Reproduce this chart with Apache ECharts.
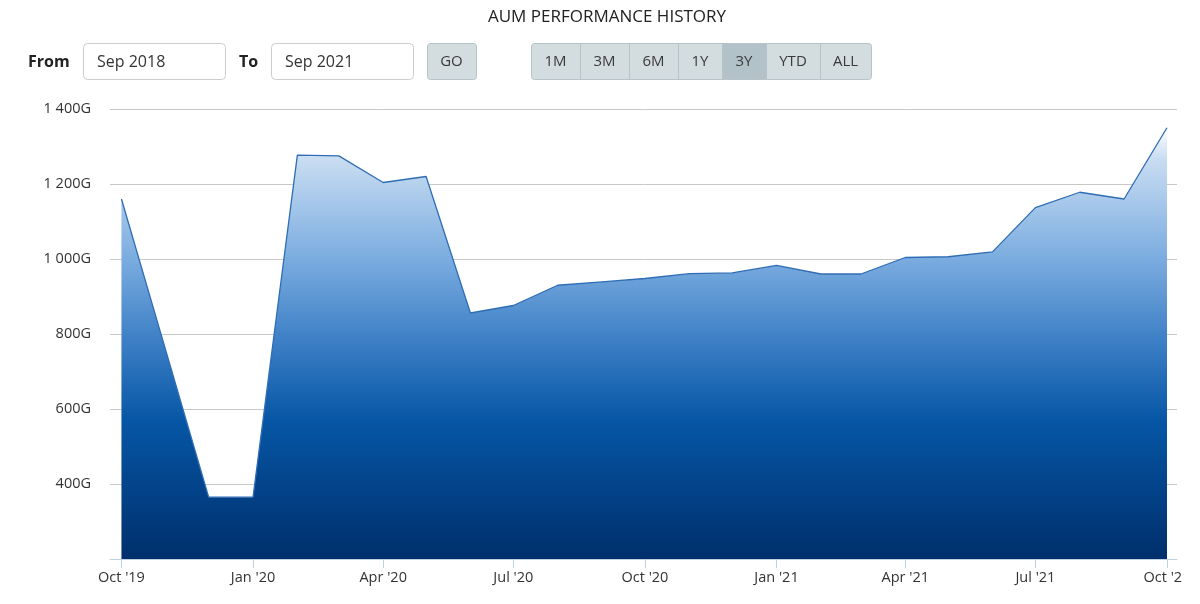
<!DOCTYPE html>
<html>
<head>
<meta charset="utf-8">
<script src="https://cdn.jsdelivr.net/npm/echarts@6/dist/echarts.min.js"></script>
<style>
  html, body { margin: 0; padding: 0; background: #ffffff; overflow: hidden; }
  #chart { width: 1184px; height: 604px; }
</style>
</head>
<body>
<div id="chart"></div>
<script>
// ---- data ----
const titleText = 'AUM PERFORMANCE HISTORY';
const months = ['2019-10-01','2019-12-01','2020-01-01','2020-02-01','2020-03-01','2020-04-01','2020-05-01','2020-06-01','2020-07-01','2020-08-01','2020-09-01','2020-10-01','2020-11-01','2020-12-01','2021-01-01','2021-02-01','2021-03-01','2021-04-01','2021-05-01','2021-06-01','2021-07-01','2021-08-01','2021-09-01','2021-10-01'];
const aumValues = [1160, 365, 365, 1277, 1275, 1204, 1220, 856, 876, 930, 939, 948, 961, 963, 983, 960, 960, 1004, 1006, 1019, 1137, 1178, 1160, 1350];
const xTickDates = ['2019-10-01','2020-01-01','2020-04-01','2020-07-01','2020-10-01','2021-01-01','2021-04-01','2021-07-01','2021-10-01'];
const xTickLabels = ["Oct '19","Jan '20","Apr '20","Jul '20","Oct '20","Jan '21","Apr '21","Jul '21","Oct '21"];
const yTickValues = [400, 600, 800, 1000, 1200, 1400];
const yTickLabels = ['400G', '600G', '800G', '1 000G', '1 200G', '1 400G'];
const fromLabel = 'From', toLabel = 'To', goLabel = 'GO';
const fromValue = 'Sep 2018', toValue = 'Sep 2021';
const rangeButtons = ['1M', '3M', '6M', '1Y', '3Y', 'YTD', 'ALL'];
const selectedRange = '3Y';

// ---- helpers ----
function ts(s) { const p = s.split('-').map(Number); return Date.UTC(p[0], p[1] - 1, p[2]); }
const seriesData = months.map((m, i) => [ts(m), aumValues[i]]);
const xTicks = xTickDates.map(ts);

// ---- layout (styles, not data) ----
const FONT = '"Open Sans", sans-serif';
const ctrlTop = 43, ctrlH = 36;
const btnEdges = [531, 580, 629, 678, 722, 766, 820, 871];

const graphics = [];
function box(x, w, fill, stroke, r) {
  graphics.push({ type: 'rect', shape: { x: x + 0.5, y: ctrlTop + 0.5, width: w, height: ctrlH, r: r },
    style: { fill: fill, stroke: stroke, lineWidth: 1 }, z: 10 });
}
function txt(x, text, opts) {
  graphics.push({ type: 'text', x: x, y: ctrlTop + ctrlH / 2 + 1, z: 11,
    style: Object.assign({ text: text, font: '15px ' + FONT, fill: '#333333', verticalAlign: 'middle', align: 'left' }, opts || {}) });
}
txt(28, fromLabel, { font: 'bold 16px ' + FONT, fill: '#222222' });
box(83, 142, '#ffffff', '#cccccc', 4);
txt(97, fromValue, { font: '16px ' + FONT });
txt(239, toLabel, { font: 'bold 16px ' + FONT, fill: '#222222' });
box(271, 142, '#ffffff', '#cccccc', 4);
txt(285, toValue, { font: '16px ' + FONT });
box(427, 49, '#d3dcdf', '#b7c3c7', 3);
txt(451.5, goLabel, { align: 'center', fill: '#3a3a3a' });
box(btnEdges[0], btnEdges[btnEdges.length - 1] - btnEdges[0], '#d3dcdf', '#b7c3c7', 3);
rangeButtons.forEach((b, i) => {
  const x0 = btnEdges[i], x1 = btnEdges[i + 1];
  if (b === selectedRange) {
    graphics.push({ type: 'rect', shape: { x: x0 + 0.5, y: ctrlTop + 1, width: x1 - x0, height: ctrlH - 1 },
      style: { fill: '#b3c2c8' }, z: 10 });
  }
  if (i > 0) {
    graphics.push({ type: 'line', shape: { x1: x0 + 0.5, y1: ctrlTop + 1, x2: x0 + 0.5, y2: ctrlTop + ctrlH },
      style: { stroke: '#b7c3c7', lineWidth: 1 }, z: 10 });
  }
  txt((x0 + x1) / 2, b, { align: 'center', fill: '#3a3a3a' });
});

const chart = echarts.init(document.getElementById('chart'), null, { renderer: 'canvas' });
chart.setOption({
  animation: false,
  backgroundColor: '#ffffff',
  title: {
    text: titleText, left: 602, top: 4, textAlign: 'center',
    textStyle: { fontFamily: FONT, fontSize: 17, fontWeight: 'normal', color: '#222222' }
  },
  graphic: graphics,
  grid: { left: 110, right: 7, top: 109, bottom: 45, containLabel: false, outerBoundsMode: 'none' },
  xAxis: {
    type: 'value',
    min: Date.UTC(2019, 8, 23),
    max: Date.UTC(2021, 9, 8),
    axisLine: { show: true, lineStyle: { color: '#c0d0e0', width: 1 } },
    axisTick: { show: true, customValues: xTicks, length: 9, lineStyle: { color: '#c0d0e0' } },
    axisLabel: {
      customValues: xTicks, margin: 11, fontFamily: FONT, fontSize: 14.5, color: '#333333',
      hideOverlap: false,
      formatter: function (v) { const i = xTicks.indexOf(v); return i >= 0 ? xTickLabels[i] : ''; }
    },
    splitLine: { show: false }
  },
  yAxis: {
    type: 'value', min: 200, max: 1400, interval: 200,
    axisLine: { show: false }, axisTick: { show: false },
    axisLabel: {
      showMinLabel: false, margin: 19, fontFamily: FONT, fontSize: 14.5, color: '#333333',
      formatter: function (v) { const i = yTickValues.indexOf(v); return i >= 0 ? yTickLabels[i] : ''; }
    },
    splitLine: { show: true, lineStyle: { color: '#c8c8c8', width: 1 } }
  },
  series: [{
    type: 'line',
    data: seriesData,
    showSymbol: false,
    symbol: 'none',
    lineStyle: { color: '#2f6db4', width: 1.3 },
    areaStyle: {
      origin: 'start',
      opacity: 1,
      color: new echarts.graphic.LinearGradient(0, 0, 0, 1, [
        { offset: 0, color: '#ffffff' },
        { offset: 0.07, color: '#c9ddf2' },
        { offset: 0.3, color: '#7cade0' },
        { offset: 0.5, color: '#3b7ec5' },
        { offset: 0.68, color: '#0656a5' },
        { offset: 1, color: '#002f6c' }
      ])
    },
    z: 2
  }]
});
</script>
</body>
</html>
